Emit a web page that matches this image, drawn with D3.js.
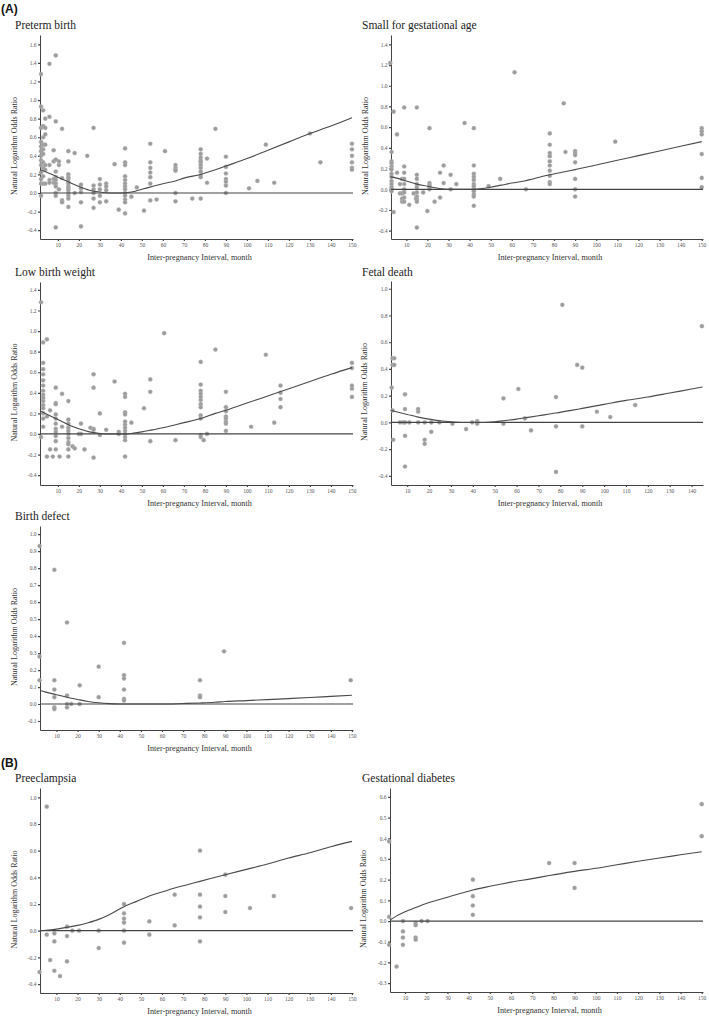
<!DOCTYPE html>
<html><head><meta charset="utf-8">
<script src="https://cdn.jsdelivr.net/npm/d3@7"></script>
<style>
html,body{margin:0;padding:0;background:#fff;}
svg{display:block;}
</style></head>
<body>
<svg id="chart" width="709" height="1016"></svg>
<script>
// ---------------- DATA ----------------
const xTicks = [10,20,30,40,50,60,70,80,90,100,110,120,130,140,150];
const xTicksFetal = [10,20,30,40,50,60,70,80,90,100,110,120,130,140];

// Points grouped by interval column: [interval, [log odds ratios]]
const pretermCols = [
  [2,[1.28,0.93,0.7,0.55,0.5,0.45,0.4,0.35,0.3,0.22,0.15,0.1,-0.03]],
  [3,[0.89,0.72,0.6,0.52,0.47,0.42,0.33,0.27,0.18,0.1]],
  [4,[0.8,0.7,0.63,0.52,0.3,0.25,0.1]],
  [6,[1.39,0.82,0.3,0.14,0.11]],
  [8,[0.46,0.34,0.15,0.11]],
  [9,[1.48,0.77,0.36,0.23,0.17,0.14,0.1,0.07,0.0,-0.03,-0.37]],
  [10.5,[0.34,0.3,0.04]],
  [12,[0.69,0.16,-0.08,-0.1]],
  [15,[0.45,0.34,0.2,0.17,0.15,0.12,0.1,0.07,0.05,0.03,0.0,-0.03,-0.06,-0.15]],
  [18,[0.43,0.0]],
  [21,[0.09,0.05,0.01,-0.1,-0.36]],
  [24,[0.4]],
  [27,[0.7,0.08,0.04,0.0,-0.06,-0.16]],
  [30,[0.15,0.09,0.04,-0.03,-0.1]],
  [33,[0.1,0.07,0.03,-0.09]],
  [37,[0.31]],
  [39,[-0.18]],
  [42,[0.48,0.33,0.3,0.18,0.14,0.1,0.07,0.04,0.0,-0.03,-0.07,-0.1,-0.22]],
  [45,[-0.04]],
  [47.6,[0.06]],
  [51,[-0.19]],
  [54,[0.53,0.33,0.27,0.22,0.17,0.1,-0.08]],
  [57,[-0.07]],
  [61,[0.45]],
  [66,[0.3,0.27,0.25,0.24,0.0,-0.09]],
  [74,[-0.06]],
  [78,[0.47,0.42,0.38,0.35,0.33,0.3,0.27,0.23,0.19,0.17,-0.06]],
  [81,[0.37,0.11]],
  [85,[0.69]],
  [90,[0.39,0.28,0.21,0.15,0.12,0.08,0.0]],
  [101,[0.05]],
  [105,[0.13]],
  [109,[0.52]],
  [113,[0.11]],
  [130,[0.64]],
  [135,[0.33]],
  [150,[0.53,0.47,0.4,0.33,0.27,0.25]]
];
const pretermCurveX = [1.5,5,10,15,20,25,30,35,40,45,50,55,60,66,70,78,85,90,100,110,120,130,140,150];
const pretermCurveY = [0.25,0.22,0.17,0.12,0.07,0.03,0.01,0,0,0.01,0.04,0.07,0.1,0.13,0.16,0.2,0.25,0.29,0.37,0.46,0.55,0.64,0.72,0.81];

const sgaCols = [
  [2.4,[1.22]],
  [3,[0.36,0.27,0.25,0.22,0.19,0.15,0.12,0.08,0.05,0.02,0.0,-0.02]],
  [4,[0.75,-0.22]],
  [5.6,[0.53,0.16]],
  [7,[0.05,-0.04]],
  [8,[0.1,-0.04,-0.09,-0.12]],
  [9,[0.79,0.22,0.16,0.1,0.05,0.0,-0.03,-0.08,-0.12]],
  [11.4,[-0.15]],
  [13.5,[-0.04]],
  [14.6,[-0.09]],
  [15,[0.79,0.14,0.1,0.05,0.02,-0.03,-0.07,-0.1,-0.12,-0.37]],
  [18,[-0.03]],
  [20,[-0.21]],
  [21,[0.59,0.06,0.04,0.02,0.0]],
  [23.4,[-0.12]],
  [26,[0.16,-0.08]],
  [27.7,[0.23,0.06]],
  [31,[0.14,0.0]],
  [33.7,[0.05]],
  [37.6,[0.64]],
  [42,[0.59,0.23,0.15,0.12,0.09,0.05,0.03,0.0,-0.02,-0.05,-0.07,-0.16]],
  [49,[0.03]],
  [54.5,[0.1]],
  [61.3,[1.13]],
  [66.7,[0.0]],
  [78,[0.54,0.43,0.35,0.32,0.27,0.23,0.18,0.13,0.07,0.05]],
  [84.6,[0.83]],
  [85.4,[0.36]],
  [90,[0.37,0.35,0.33,0.26,0.1,0.0,-0.07]],
  [109,[0.46]],
  [150,[0.59,0.56,0.53,0.34,0.11,0.02]]
];
const sgaCurveX = [2.5,5,10,15,20,25,30,35,40,45,50,55,60,66,70,78,85,90,100,110,120,130,140,150];
const sgaCurveY = [0.12,0.11,0.08,0.05,0.03,0.01,0.0,0,0,0.005,0.02,0.04,0.06,0.08,0.1,0.14,0.17,0.19,0.235,0.28,0.325,0.37,0.415,0.46];

const lbwCols = [
  [2,[1.28,-0.03]],
  [3,[0.89,0.69,0.63,0.58,0.52,0.47,0.42,0.38,0.35,0.32,0.28,0.25,0.2,0.15,0.07]],
  [4.8,[0.92,0.17,-0.22]],
  [6.3,[0.23,-0.15]],
  [7.6,[-0.22]],
  [9,[0.45,0.3,0.29,0.19,0.15,0.1,0.05,0.02,-0.02,-0.07,-0.15]],
  [10.8,[-0.22]],
  [12,[0.39,0.07]],
  [15,[0.32,0.14,0.1,0.06,0.03,0.0,-0.04,-0.08,-0.1,-0.15,-0.22]],
  [17,[-0.12]],
  [18,[-0.14]],
  [20,[0.0]],
  [21,[0.1,0.0]],
  [22.7,[-0.15]],
  [25.5,[0.06]],
  [27,[0.58,0.45,0.05,0.04,-0.23]],
  [30,[0.2,-0.01]],
  [33,[0.04]],
  [37,[0.51]],
  [39,[0.02,0.0]],
  [42,[0.39,0.36,0.21,0.19,0.12,0.09,0.06,0.03,0.0,-0.03,-0.06,-0.22]],
  [45,[0.11]],
  [51,[0.25]],
  [54,[0.53,0.41,-0.07]],
  [60.6,[0.98]],
  [66,[-0.06]],
  [78,[0.7,0.48,0.42,0.39,0.36,0.33,0.29,0.26,0.18,0.15,-0.01,-0.03]],
  [79.4,[-0.06]],
  [81,[0.0]],
  [85,[0.82]],
  [90,[0.41,0.26,0.22,0.17,0.15,0.12,0.1,0.03]],
  [102,[0.07]],
  [109,[0.77]],
  [113,[0.11]],
  [116,[0.47,0.4,0.34,0.26]],
  [150,[0.69,0.64,0.47,0.44,0.36]]
];
const lbwCurveX = [2,5,10,15,20,25,30,35,40,45,50,55,60,66,70,78,85,90,100,110,120,130,140,150];
const lbwCurveY = [0.22,0.19,0.14,0.09,0.05,0.02,0.005,0,0,0.005,0.02,0.04,0.06,0.09,0.11,0.15,0.2,0.23,0.3,0.37,0.44,0.51,0.58,0.645];

const fetalCols = [
  [2.9,[0.26]],
  [3.3,[0.48,0.43,0.09]],
  [3.6,[-0.13]],
  [4.1,[0.48,0.43]],
  [6.7,[0.0]],
  [8.2,[0.0]],
  [9,[0.21,0.1,0.0,-0.1,-0.33]],
  [11,[0.0]],
  [15,[0.1,0.08,0.0]],
  [18,[0.0,-0.13,-0.16]],
  [21,[0.0,-0.07]],
  [24.7,[0.0]],
  [30.7,[-0.01]],
  [36.9,[-0.05]],
  [39.7,[0.0]],
  [42,[0.01,0.0,-0.01]],
  [54,[0.18,-0.01]],
  [60.8,[0.25]],
  [63.8,[0.03]],
  [66.6,[-0.06]],
  [78,[0.19,-0.03,-0.37]],
  [80.9,[0.88]],
  [87.7,[0.43]],
  [90,[0.41,-0.03]],
  [96.7,[0.08]],
  [102.8,[0.04]],
  [114.2,[0.13]],
  [144.7,[0.72]]
];
const fetalCurveX = [2.6,5,10,15,20,25,30,35,40,45,50,55,60,66,70,78,85,90,100,110,120,130,140,145];
const fetalCurveY = [0.09,0.08,0.06,0.04,0.025,0.013,0.005,0,0,0,0.005,0.015,0.025,0.04,0.05,0.07,0.09,0.105,0.135,0.165,0.19,0.22,0.25,0.265];

const defectCols = [
  [2,[0.93,0.28,0.14]],
  [9,[0.79,0.14,0.085,0.04,-0.02,-0.03]],
  [15,[0.48,0.05,0.0,-0.02]],
  [17,[0.0]],
  [21,[0.11,0.0]],
  [30,[0.22,0.04]],
  [42,[0.36,0.17,0.15,0.085,0.03,0.02]],
  [78,[0.14,0.05,0.04]],
  [89.4,[0.31]],
  [149.4,[0.14]]
];
const defectCurveX = [2.2,5,10,15,20,25,30,35,40,45,50,60,70,78,85,90,100,110,120,130,140,150];
const defectCurveY = [0.08,0.07,0.055,0.04,0.027,0.015,0.007,0.002,0,0,0,0,0.003,0.006,0.01,0.015,0.02,0.026,0.032,0.038,0.045,0.052];

const preeclampsiaCols = [
  [2,[-0.31]],
  [5.4,[0.93,-0.03]],
  [7,[-0.22]],
  [9,[-0.02,-0.08,-0.3]],
  [11.7,[-0.34]],
  [15,[0.03,-0.04,-0.23]],
  [17.5,[0.0]],
  [20.7,[0.0]],
  [30,[0.0,-0.13]],
  [42,[0.2,0.13,0.09,0.06,0.0,-0.09]],
  [54,[0.07,-0.03]],
  [66,[0.27,0.04]],
  [78,[0.6,0.27,0.18,0.1,-0.08]],
  [90,[0.42,0.26,0.14]],
  [101.7,[0.17]],
  [113,[0.26]],
  [149.6,[0.17]]
];
const preeclampsiaCurveX = [2.2,5,10,15,20,25,30,35,42,48,54,60,66,72,78,84,90,100,110,120,130,140,150];
const preeclampsiaCurveY = [0.0,0.003,0.012,0.025,0.04,0.06,0.085,0.12,0.18,0.22,0.26,0.29,0.32,0.345,0.37,0.395,0.42,0.46,0.5,0.545,0.585,0.63,0.67];

const diabetesCols = [
  [2.5,[0.385,0.02,-0.115]],
  [6,[-0.22]],
  [9,[0.0,-0.05,-0.08,-0.115]],
  [15,[-0.01,-0.02,-0.08,-0.09]],
  [17.8,[0.0]],
  [20.6,[0.0]],
  [42,[0.2,0.12,0.075,0.03]],
  [78,[0.28]],
  [90,[0.28,0.16]],
  [150,[0.565,0.41]]
];
const diabetesCurveX = [2.9,6,10,15,20,25,30,36,42,50,60,70,78,90,100,110,120,130,140,150];
const diabetesCurveY = [0.005,0.025,0.045,0.065,0.085,0.1,0.115,0.133,0.15,0.168,0.188,0.205,0.22,0.24,0.255,0.272,0.289,0.305,0.32,0.335];

const yTicksPreterm = [-0.4,-0.2,0,0.2,0.4,0.6,0.8,1.0,1.2,1.4,1.6];
const yTicksSga = [-0.4,-0.2,0,0.2,0.4,0.6,0.8,1.0,1.2,1.4];
const yTicksLbw = [-0.4,-0.2,0,0.2,0.4,0.6,0.8,1.0,1.2,1.4];
const yTicksFetal = [-0.4,-0.2,0,0.2,0.4,0.6,0.8,1.0];
const yTicksDefect = [-0.1,0,0.1,0.2,0.3,0.4,0.5,0.6,0.7,0.8,0.9,1.0];
const yTicksPre = [-0.4,-0.2,0,0.2,0.4,0.6,0.8,1.0];
const yTicksGdm = [-0.3,-0.2,-0.1,0,0.1,0.2,0.3,0.4,0.5,0.6];

const titles = ["Preterm birth","Small for gestational age","Low birth weight","Fetal death","Birth defect","Preeclampsia","Gestational diabetes"];
const yTitle = "Natural Logarithm Odds Ratio";
const xTitle = "Inter-pregnancy Interval, month";

// ---------------- LAYOUT ----------------
const panels = [
  {title:titles[0], cols:pretermCols, cx:pretermCurveX, cy:pretermCurveY, yt:yTicksPreterm, xt:xTicks,
   L:40,R:353,T:35,B:239, xd:[1.5,150.5], yd:[-0.495,1.70], titleY:29, titleX:15, yTitleX:17},
  {title:titles[1], cols:sgaCols, cx:sgaCurveX, cy:sgaCurveY, yt:yTicksSga, xt:xTicks,
   L:391,R:703,T:35,B:239, xd:[2.75,150.6], yd:[-0.48,1.49], titleY:29, titleX:362, yTitleX:368},
  {title:titles[2], cols:lbwCols, cx:lbwCurveX, cy:lbwCurveY, yt:yTicksLbw, xt:xTicks,
   L:40,R:353,T:282,B:485, xd:[1.5,150.5], yd:[-0.496,1.477], titleY:276, titleX:15, yTitleX:17},
  {title:titles[3], cols:fetalCols, cx:fetalCurveX, cy:fetalCurveY, yt:yTicksFetal, xt:xTicksFetal,
   L:391,R:703,T:281,B:485, xd:[2.6,145.2], yd:[-0.468,1.058], titleY:276, titleX:362, yTitleX:367},
  {title:titles[4], cols:defectCols, cx:defectCurveX, cy:defectCurveY, yt:yTicksDefect, xt:xTicks,
   L:40,R:353,T:526,B:730, xd:[2.2,150.5], yd:[-0.153,1.048], titleY:520, titleX:15, yTitleX:17},
  {title:titles[5], cols:preeclampsiaCols, cx:preeclampsiaCurveX, cy:preeclampsiaCurveY, yt:yTicksPre, xt:xTicks,
   L:40,R:353,T:788,B:993, xd:[2.2,150.5], yd:[-0.467,1.07], titleY:782, titleX:15, yTitleX:17},
  {title:titles[6], cols:diabetesCols, cx:diabetesCurveX, cy:diabetesCurveY, yt:yTicksGdm, xt:xTicks,
   L:390,R:703,T:788,B:992, xd:[2.9,150.6], yd:[-0.343,0.643], titleY:782, titleX:362, yTitleX:366}
];

const svg = d3.select("#chart");
const serif = "'Liberation Serif','Times New Roman',serif";
const fmt = v => d3.format(".1f")(v).replace("\u2212","-");

svg.append("text").attr("x",1).attr("y",13).text("(A)")
  .attr("font-family","'Liberation Sans',Arial,sans-serif").attr("font-weight","bold").attr("font-size",12).attr("fill","#111");
svg.append("text").attr("x",1).attr("y",767).text("(B)")
  .attr("font-family","'Liberation Sans',Arial,sans-serif").attr("font-weight","bold").attr("font-size",12).attr("fill","#111");

panels.forEach(p => {
  const x = d3.scaleLinear().domain(p.xd).range([p.L,p.R]);
  const y = d3.scaleLinear().domain(p.yd).range([p.B,p.T]);
  const g = svg.append("g");

  g.append("text").attr("x",p.titleX).attr("y",p.titleY).text(p.title)
    .attr("font-family",serif).attr("font-size",11.5).attr("fill","#222");

  // axes
  const ya = g.append("g").attr("transform",`translate(${p.L},0)`)
    .call(d3.axisLeft(y).tickValues(p.yt).tickSize(2).tickSizeOuter(0).tickFormat(fmt));
  const xa = g.append("g").attr("transform",`translate(0,${p.B})`)
    .call(d3.axisBottom(x).tickValues(p.xt).tickSize(2).tickSizeOuter(0).tickFormat(d3.format("d")));
  [ya,xa].forEach(a => {
    a.select(".domain").attr("stroke","#444").attr("stroke-width",1);
    a.selectAll(".tick line").attr("stroke","#444").attr("stroke-width",1.2);
    a.selectAll(".tick text").attr("font-family",serif).attr("font-size",5.5).attr("fill","#555");
  });
  ya.selectAll(".tick text").attr("x",-3.5);
  xa.selectAll(".tick text").attr("y",4);

  g.append("text").attr("transform",`translate(${p.yTitleX},${(p.T+p.B)/2+9}) rotate(-90)`)
    .attr("text-anchor","middle").text(yTitle)
    .attr("font-family",serif).attr("font-size",8).attr("fill","#333");
  g.append("text").attr("x",(p.L+p.R)/2+3).attr("y",p.B+21).attr("text-anchor","middle").text(xTitle)
    .attr("font-family",serif).attr("font-size",8.2).attr("fill","#333");

  // points
  const pts = p.cols.flatMap(([xv,ys]) => ys.map(yv => [xv,yv]));
  g.append("g").selectAll("circle").data(pts).join("circle")
    .attr("cx",d=>x(d[0])).attr("cy",d=>y(d[1])).attr("r",2.1)
    .attr("fill","#9c9c9c").attr("stroke","#bdbdbd").attr("stroke-width",0.4);

  // zero reference line
  g.append("line").attr("x1",p.L).attr("x2",p.R).attr("y1",y(0)).attr("y2",y(0))
    .attr("stroke","#444").attr("stroke-width",1.2);

  // fitted curve
  const curve = p.cx.map((xv,i)=>[xv,p.cy[i]]);
  g.append("path").datum(curve)
    .attr("d",d3.line().x(d=>x(d[0])).y(d=>y(d[1])).curve(d3.curveMonotoneX))
    .attr("fill","none").attr("stroke","#4a4a4a").attr("stroke-width",1.1);
});
</script>
</body></html>
